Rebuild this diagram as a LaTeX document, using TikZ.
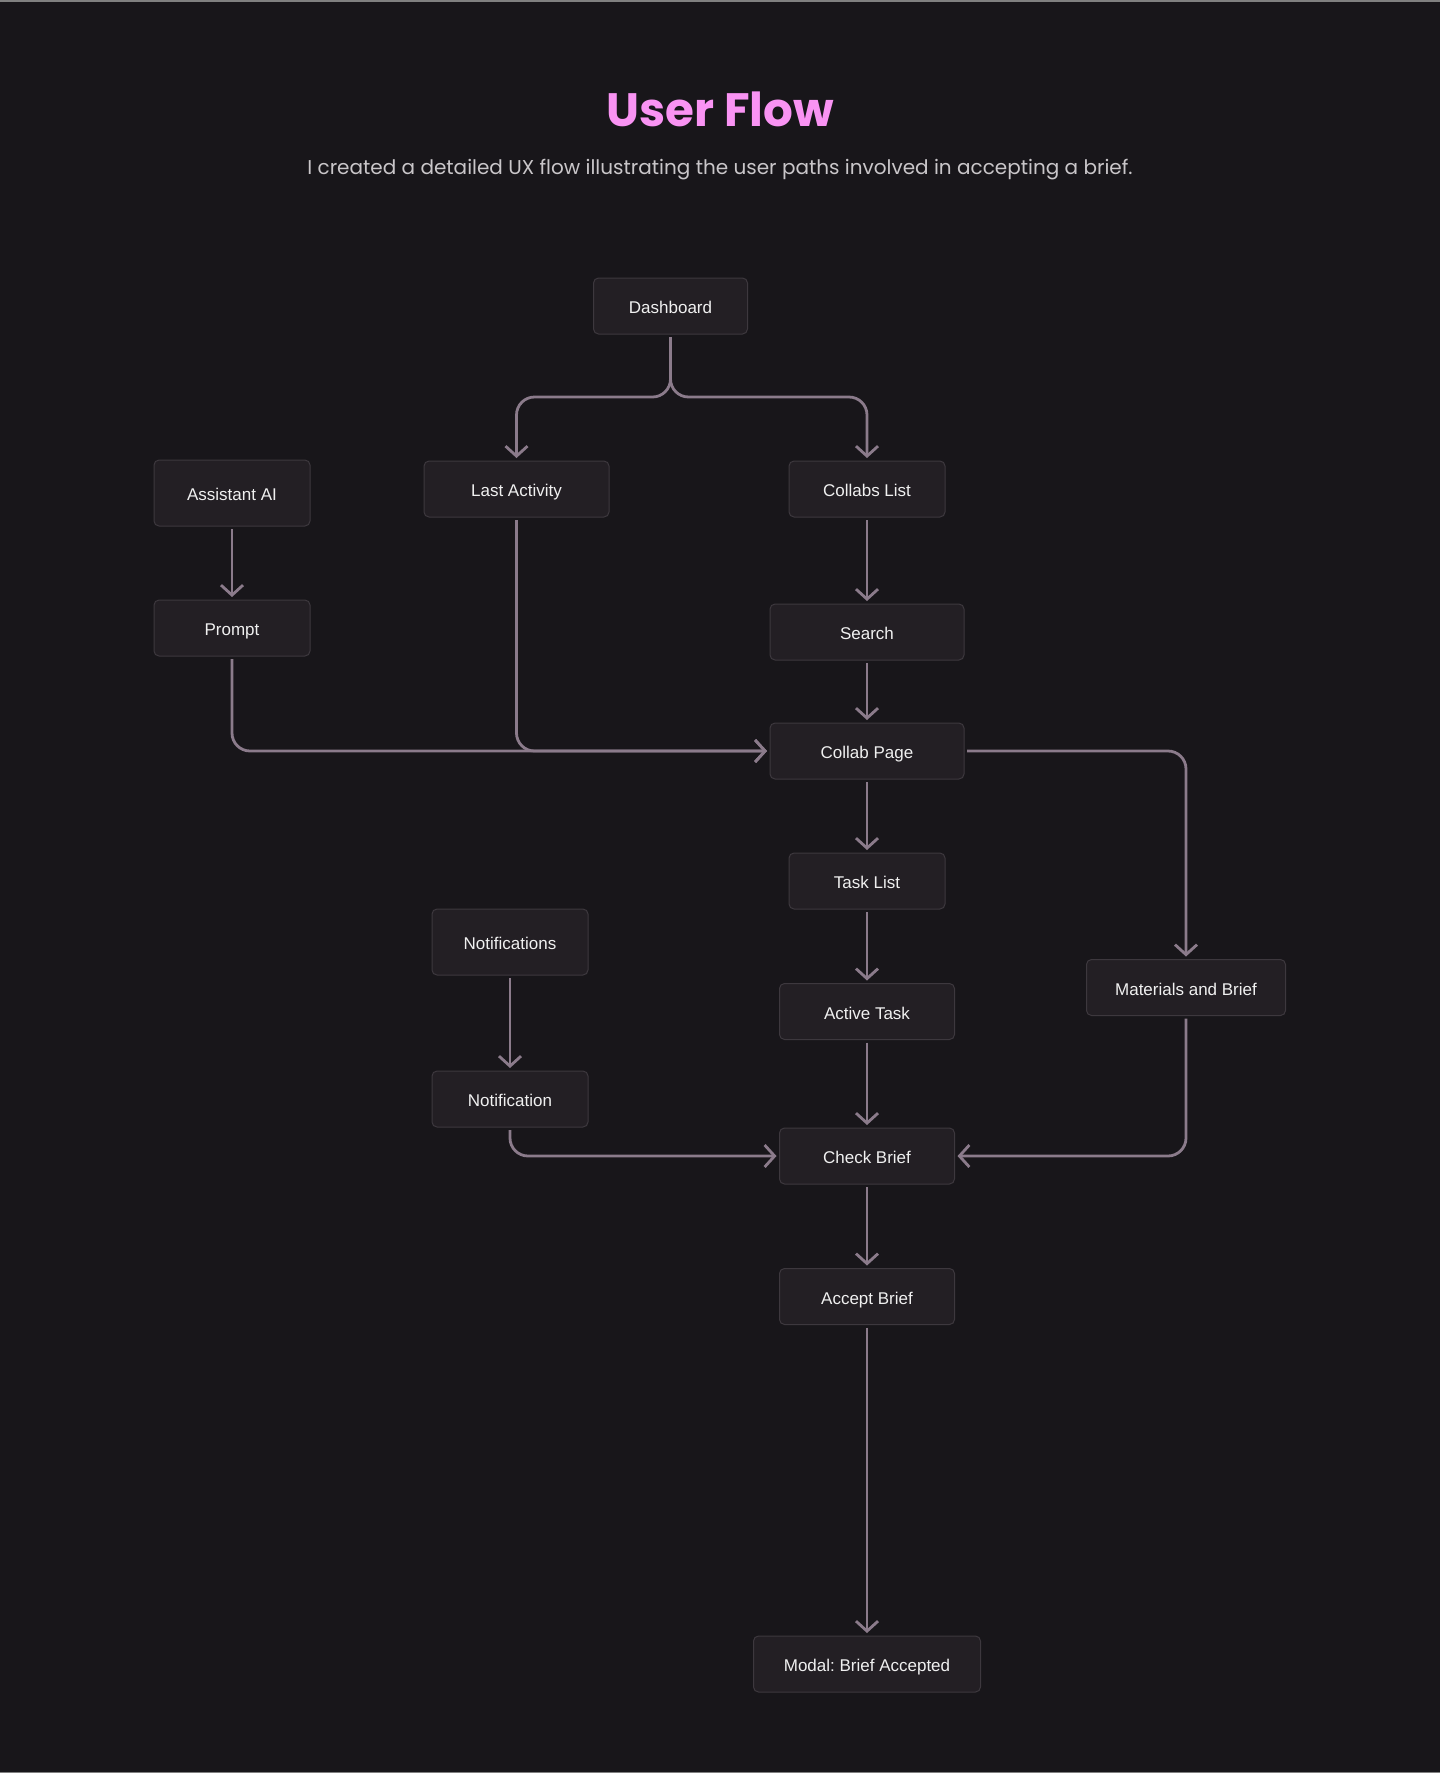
\documentclass[tikz,border=0pt]{standalone}
\usepackage{fontspec}
\setmainfont{Liberation Sans}
\newfontfamily\poppins{Poppins}
\usepackage{xcolor}
\usepackage{tikz}
\usetikzlibrary{arrows.meta,positioning}
\frenchspacing
\definecolor{flowbg}{HTML}{18161A}
\definecolor{flowbox}{HTML}{231F24}
\definecolor{flowedge}{HTML}{3D383E}
\definecolor{flowline}{HTML}{8B7B8B}
\definecolor{flowpink}{HTML}{F993F3}
\definecolor{flowgrey}{HTML}{C9C6C9}
\definecolor{flowtext}{HTML}{F0F0F0}
\begin{document}
\begin{tikzpicture}[
    x=0.5pt, y=-0.5pt,
    box/.style={draw=flowedge, line width=0.5pt, rounded corners=2.5pt, fill=flowbox,
        minimum width=#1, minimum height=28pt, outer sep=1.5pt,
        text height=7.6pt, text depth=0pt,
        font=\fontsize{8.5}{10}\selectfont, text=flowtext},
    arrow/.style={-{Straight Barb[length=5pt,width=11pt]}, line width=1.4pt, draw=flowline, rounded corners=9pt}
]
% Canvas
\useasboundingbox (0,0) rectangle (1440,1773);
\fill[flowbg] (-10,-10) rectangle (1450,1783);
\draw[gray, line width=1pt] (-10,0.5) -- (1450,0.5);
\draw[gray, line width=1pt] (-10,1772.5) -- (1450,1772.5);

% Heading
\node[anchor=base, text=flowpink, font=\poppins\bfseries\fontsize{23.4}{28}\selectfont] (title) at (720,126) {User Flow};
\node[anchor=base, text=flowgrey, font=\poppins\fontsize{10}{12}\selectfont] (subtitle) at (720,174) {I created a detailed UX flow illustrating the user paths involved in accepting a brief.};

% Entry tier
\node[box=77pt] (dashboard) at (670.5,306) {Dashboard};
\node[box=78pt, minimum height=33pt] (assistant) at (232,493) {Assistant AI};
\node[box=92.5pt] (lastact) at (516.5,489) {Last Activity};
\node[box=78pt] (collabs) at (867,489) {Collabs List};

% Browse tier
\node[box=78pt] (prompt) at (232,628) {Prompt};
\node[box=97pt] (search) at (867,632) {Search};
\node[box=97pt] (collabpage) at (867,751) {Collab Page};

% Task tier
\node[box=78pt] (tasklist) at (867,881) {Task List};
\node[box=78pt, minimum height=33pt] (notifs) at (510,942) {Notifications};
\node[box=99.5pt] (materials) at (1186,987.5) {Materials and Brief};
\node[box=87.5pt] (activetask) at (867,1011.5) {Active Task};
\node[box=78pt] (notif) at (510,1099) {Notification};

% Brief tier
\node[box=87.5pt] (checkbrief) at (867,1156) {Check Brief};
\node[box=87.5pt] (acceptbrief) at (867,1296.5) {Accept Brief};
\node[box=113.5pt] (modal) at (867,1664) {Modal: Brief Accepted};

% Arrows
\draw[arrow] (dashboard.south) -- (dashboard.south |- 0,397) -| (lastact.north);
\draw[arrow] (dashboard.south) -- (dashboard.south |- 0,397) -| (collabs.north);
\draw[arrow] (assistant) -- (prompt);
\draw[arrow] (prompt.south) |- (collabpage.west);
\draw[arrow] (lastact.south) |- (collabpage.west);
\draw[arrow] (collabs) -- (search);
\draw[arrow] (search) -- (collabpage);
\draw[arrow] (collabpage) -- (tasklist);
\draw[arrow] (collabpage.east) -| (materials.north);
\draw[arrow] (tasklist) -- (activetask);
\draw[arrow] (activetask) -- (checkbrief);
\draw[arrow] (notifs) -- (notif);
\draw[arrow] (notif.south) |- (checkbrief.west);
\draw[arrow] (materials.south) |- (checkbrief.east);
\draw[arrow] (checkbrief) -- (acceptbrief);
\draw[arrow] (acceptbrief) -- (modal);
\end{tikzpicture}
\end{document}
